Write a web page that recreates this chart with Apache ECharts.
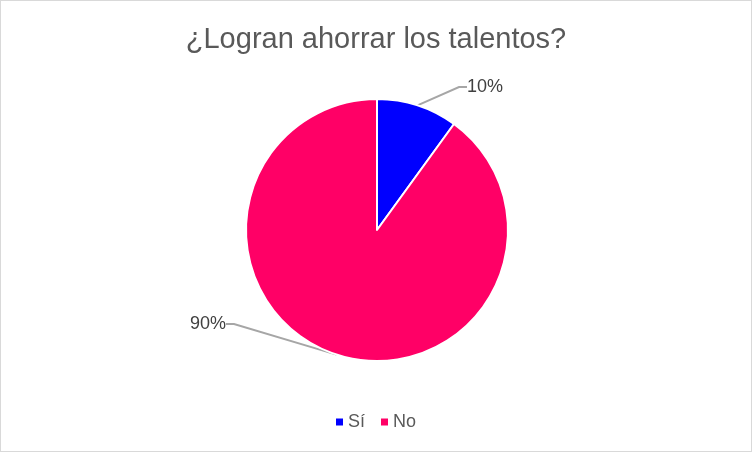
<!DOCTYPE html>
<html><head><meta charset="utf-8">
<script src="https://cdn.jsdelivr.net/npm/echarts@6/dist/echarts.min.js"></script>
<style>
html,body{margin:0;padding:0;background:#fff;}
#c{width:750px;height:450px;border:1px solid #d9d9d9;}
</style></head>
<body><div id="c"></div>
<script>
const titleText = '¿Logran ahorrar los talentos?';
const categories = ['Sí', 'No'];
const values = [10, 90];
const colors = ['#0000FF', '#FF0066'];
const labelPos = [[484, 86], [207, 323]];

const chart = echarts.init(document.getElementById('c'));
chart.setOption({
  animation: false,
  title: {
    text: titleText, left: 'center', top: 19,
    textStyle: {fontFamily: 'Liberation Sans, Arial', fontSize: 29, fontWeight: 'normal', color: '#595959'}
  },
  legend: {
    bottom: 15, left: 'center', itemWidth: 7, itemHeight: 7, itemGap: 16, itemStyle: {borderWidth: 0},
    icon: 'rect',
    textStyle: {fontFamily: 'Liberation Sans, Arial', fontSize: 18, color: '#595959'},
    data: categories
  },
  series: [{
    type: 'pie',
    center: [376, 229],
    radius: 131,
    startAngle: 90,
    clockwise: true,
    data: categories.map((c, i) => ({name: c, value: values[i], itemStyle: {color: colors[i]}})),
    itemStyle: {borderColor: '#fff', borderWidth: 2},
    label: {
      show: true, position: 'outside',
      formatter: p => Math.round(p.percent) + '%',
      fontFamily: 'Liberation Sans, Arial', fontSize: 18, color: '#404040'
    },
    labelLine: {show: true, length: 20, length2: 8, lineStyle: {color: '#a6a6a6', width: 2}},
    labelLayout: function (params) {
      const p = labelPos[params.dataIndex];
      return {x: p[0], y: p[1], align: 'center', verticalAlign: 'middle'};
    }
  }]
});
</script></body></html>
